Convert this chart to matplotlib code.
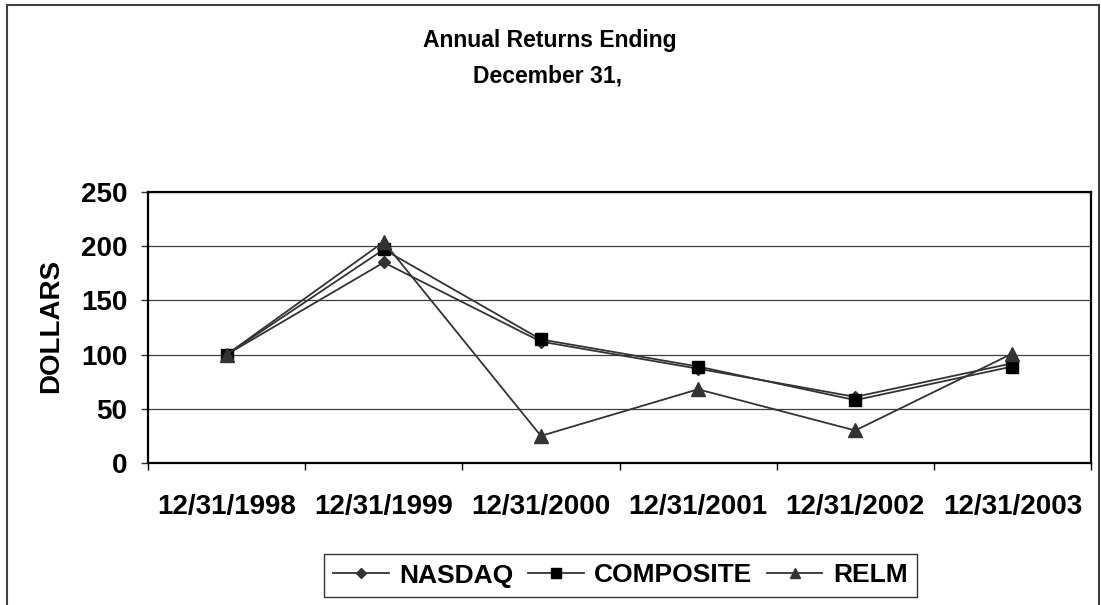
import matplotlib
matplotlib.use("Agg")
import matplotlib.pyplot as plt
import matplotlib.patches as patches

plt.rcParams['font.family'] = ['Liberation Sans', 'DejaVu Sans']
plt.rcParams['font.weight'] = 'bold'

# data
dates = ['12/31/1998', '12/31/1999', '12/31/2000', '12/31/2001', '12/31/2002', '12/31/2003']
nasdaq = [100, 185, 112, 87, 61, 92]
composite = [100, 197, 114, 89, 58, 89]
relm = [100, 204, 25, 68, 30, 101]
yticks = [0, 50, 100, 150, 200, 250]

W, H = 1101, 605
fig = plt.figure(figsize=(W / 100, H / 100), dpi=100)

# axes placed in pixel terms
left, right, top, bottom = 148, 1091, 192, 463
ax = fig.add_axes([left / W, 1 - bottom / H, (right - left) / W, (bottom - top) / H])

x = list(range(len(dates)))
line_col = '#333333'
ax.plot(x, nasdaq, color=line_col, lw=1.3, marker='D', ms=6.5,
        mfc=line_col, mec=line_col, label='NASDAQ', zorder=3)
ax.plot(x, composite, color=line_col, lw=1.3, marker='s', ms=9,
        mfc='black', mec='black', label='COMPOSITE', zorder=4)
ax.plot(x, relm, color=line_col, lw=1.3, marker='^', ms=10.5,
        mfc=line_col, mec=line_col, label='RELM', zorder=5)

ax.set_xlim(-0.5, len(dates) - 0.5)
ax.set_ylim(0, 250)
ax.set_yticks(yticks)
ax.set_yticklabels([str(v) for v in yticks])
ax.set_xticks(x)
ax.set_xticklabels(dates)
ax.set_xticks([i - 0.5 for i in range(len(dates) + 1)], minor=True)

ax.tick_params(axis='x', which='major', length=0, pad=22, labelsize=20)
ax.tick_params(axis='x', which='minor', length=5, width=1, direction='out', color='black')
ax.tick_params(axis='y', length=5, width=1, direction='out', pad=10, labelsize=20, color='#333333')

ax.yaxis.grid(True, color='#404040', lw=0.9)
ax.set_axisbelow(True)
for s in ax.spines.values():
    s.set_linewidth(1.6)
    s.set_color('black')

fig.text(51 / W, 1 - 326 / H, 'DOLLARS', rotation=90, ha='center', va='center',
         fontsize=20, fontweight='bold')

fig.text(550 / W, 1 - 41 / H, 'Annual Returns Ending', ha='center', va='center',
         fontsize=16.5, fontweight='bold')
fig.text(548 / W, 1 - 76 / H, 'December 31,', ha='center', va='center',
         fontsize=16.5, fontweight='bold')

leg = fig.legend(loc='center', bbox_to_anchor=(620.5 / W, 1 - 575.5 / H), ncol=3,
                 fontsize=19, frameon=True, fancybox=False, handlelength=2.1,
                 handletextpad=0.4, columnspacing=0.55, borderpad=0.35,
                 markerscale=0.75, borderaxespad=0)
leg.get_frame().set_edgecolor('black')
leg.get_frame().set_linewidth(1.0)
for t in leg.get_texts():
    t.set_fontweight('bold')

# outer chart border (bottom runs off the picture)
border = patches.Rectangle((7 / W, -0.05), (1099 - 7) / W, 1 - 5 / H + 0.05,
                           transform=fig.transFigure, fill=False,
                           edgecolor='#404040', lw=1.5)
fig.patches.append(border)

fig.savefig('out.png', dpi=100)
